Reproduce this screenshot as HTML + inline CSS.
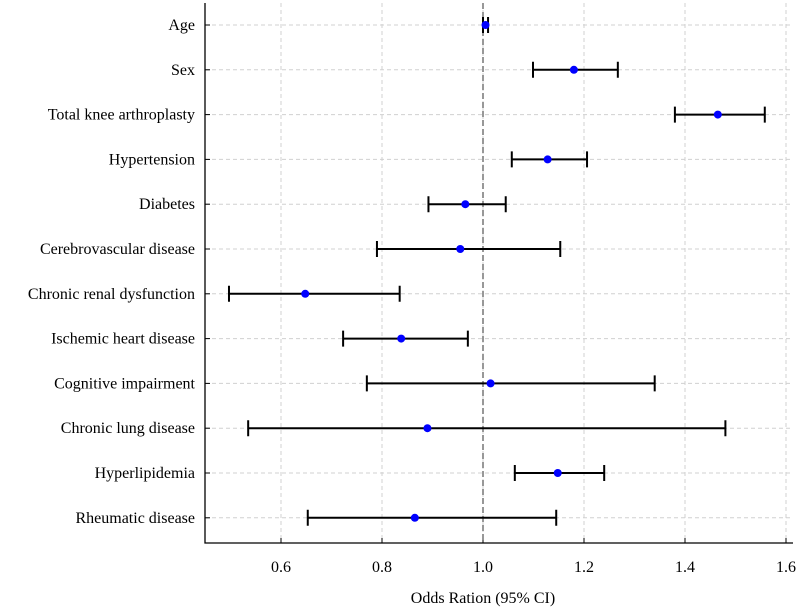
<!DOCTYPE html>
<html><head><meta charset="utf-8"><style>
body{margin:0;background:#fff;}
svg text{font-family:"Liberation Serif",serif;fill:#000;}
</style></head><body>
<svg width="797" height="609" id="chart"></svg>
<script>
const categories=["Age","Sex","Total knee arthroplasty","Hypertension","Diabetes","Cerebrovascular disease","Chronic renal dysfunction","Ischemic heart disease","Cognitive impairment","Chronic lung disease","Hyperlipidemia","Rheumatic disease"];
const oddsRatios=[1.005,1.18,1.465,1.128,0.965,0.955,0.648,0.838,1.015,0.89,1.148,0.865];
const ciLower=[1.0,1.099,1.38,1.057,0.892,0.79,0.497,0.723,0.77,0.535,1.063,0.653];
const ciUpper=[1.01,1.267,1.558,1.206,1.045,1.153,0.835,0.97,1.34,1.48,1.24,1.145];
const xTicks=[0.6,0.8,1.0,1.2,1.4,1.6];
const xTickLabels=["0.6","0.8","1.0","1.2","1.4","1.6"];

const svg=document.getElementById('chart');
const NS="http://www.w3.org/2000/svg";
const L=205,R=793,T=3,B=543;
const x=v=>483+(v-1)*505;
const y=i=>25+i*44.8;
function mk(tag,attrs){const e=document.createElementNS(NS,tag);for(const k in attrs)e.setAttribute(k,attrs[k]);svg.appendChild(e);return e;}
xTicks.forEach((t,i)=>{
  const g=mk('line',{x1:x(t),x2:x(t),y1:T,y2:B,stroke:'#d0d0d0','stroke-dasharray':'4,3','stroke-width':1});
  
  
  const tk=mk('line',{x1:x(t),x2:x(t),y1:B,y2:B-5,stroke:'#000'});
  
  
  const tl=mk('text',{x:x(t),y:B+29,'text-anchor':'middle','font-size':16});
  tl.textContent=xTickLabels[i];
  
  
});
categories.forEach((c,i)=>{
  const g=mk('line',{x1:L,x2:R,y1:y(i),y2:y(i),stroke:'#d0d0d0','stroke-dasharray':'4,3','stroke-width':1});
  
  
  const tk=mk('line',{x1:L,x2:L+5,y1:y(i),y2:y(i),stroke:'#000'});
  
  
  const tl=mk('text',{x:195,y:y(i)+5,'text-anchor':'end','font-size':16});
  tl.textContent=c;
  
  
});
const ref=mk('line',{x1:x(1),x2:x(1),y1:T,y2:B,stroke:'#777','stroke-dasharray':'6,3','stroke-width':1.5});


const ax=mk('path',{d:`M${L},${T} V${B} H${R}`,fill:'none',stroke:'#000','stroke-width':1.3});


categories.forEach((c,i)=>{
  const yy=y(i);
  const ci=mk('path',{d:`M${x(ciLower[i])},${yy-8} V${yy+8} M${x(ciLower[i])},${yy} H${x(ciUpper[i])} M${x(ciUpper[i])},${yy-8} V${yy+8}`,stroke:'#000','stroke-width':2,fill:'none'});
  
  
  const p=mk('circle',{cx:x(oddsRatios[i]),cy:yy,r:4,fill:'#0000ff'});
  
  
});
const xl=mk('text',{x:483,y:603,'text-anchor':'middle','font-size':16});
xl.textContent="Odds Ration (95% CI)";


</script>
</body></html>
